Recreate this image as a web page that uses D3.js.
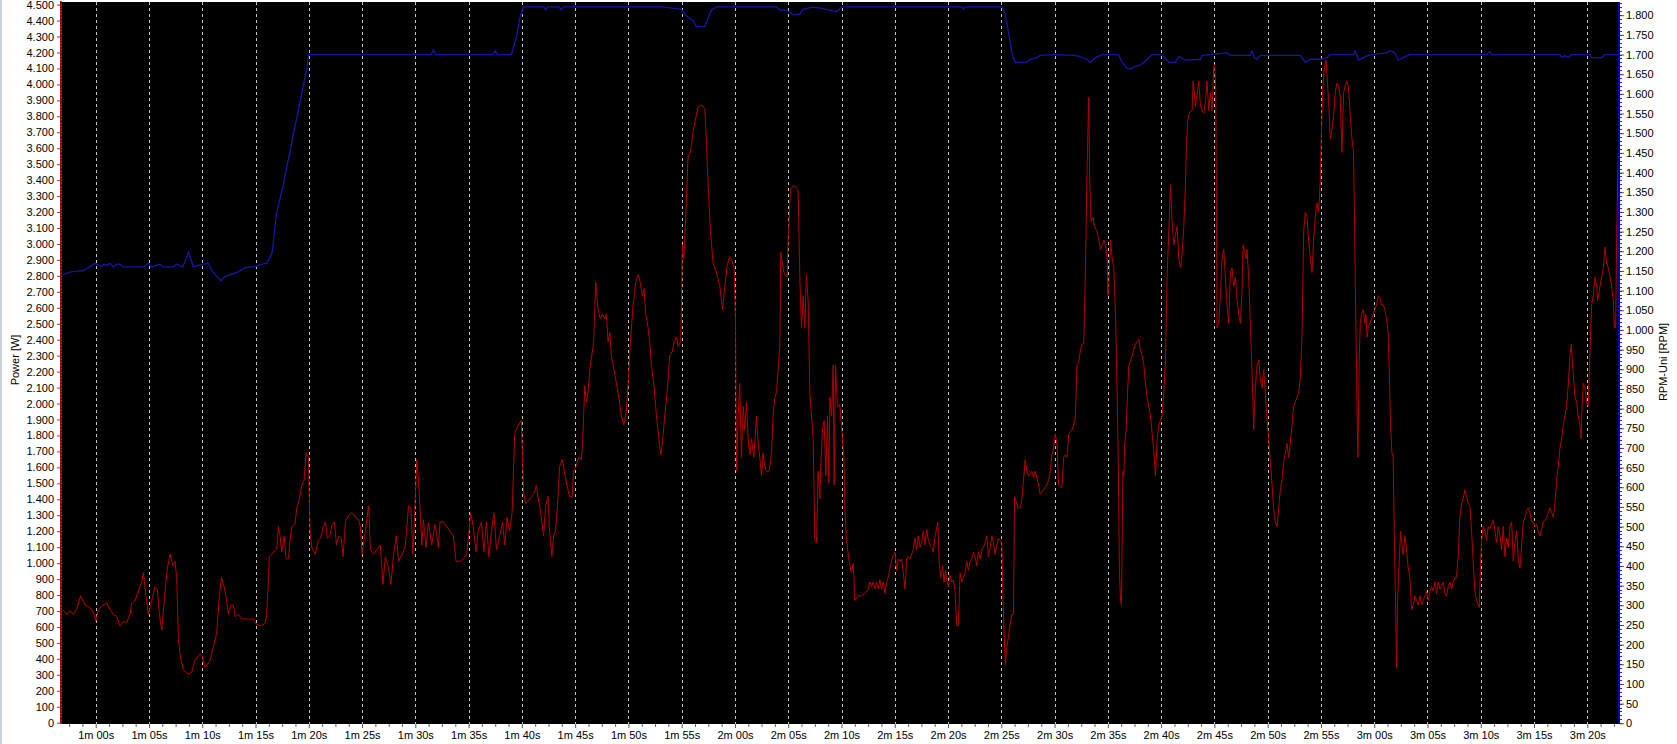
<!DOCTYPE html>
<html><head><meta charset="utf-8">
<script src="https://cdn.jsdelivr.net/npm/d3@7"></script>
<style>
html,body{margin:0;padding:0;background:#fff;}
svg{display:block;font-family:"Liberation Sans",Arial,sans-serif;}
</style></head>
<body>
<svg id="chart" width="1677" height="744"></svg>
<script>
// ---- data (time in seconds, power in W, rpm) ----
const timeTicks = d3.range(60, 201, 5);
const powerTicks = d3.range(0, 4501, 100);
const rpmTicks = d3.range(0, 1801, 50);
const leftTitle = "Power [W]";
const rightTitle = "RPM-Uni [RPM]";

const powerSeries = [
[56.90,708],[57.28,679],[57.59,702],[57.90,679],[58.22,714],[58.59,795],[59.00,737],[59.47,722],[59.78,693],[60.00,635],[60.25,708],[60.56,731],[61.03,751],[61.35,708],[61.66,679],[61.97,665],[62.28,607],[62.60,635],[62.91,627],[63.22,679],[63.38,751],[63.69,766],[64.01,824],[64.32,882],[64.47,940],[64.72,795],[64.94,679],[65.26,766],[65.57,853],[65.79,838],[65.98,679],[66.20,578],[66.51,824],[66.73,969],[66.98,1055],[67.23,983],[67.45,1012],[67.60,911],[67.76,534],[67.92,419],[68.23,332],[68.70,303],[69.01,317],[69.32,390],[69.79,433],[70.01,419],[70.26,346],[70.73,390],[71.05,477],[71.36,564],[71.61,795],[71.80,911],[72.05,853],[72.30,766],[72.45,679],[72.67,737],[72.92,737],[73.08,665],[73.39,679],[73.70,650],[74.17,650],[74.80,650],[75.05,621],[75.43,607],[75.89,621],[76.05,679],[76.30,1040],[76.68,1069],[76.99,1084],[77.15,1229],[77.30,1171],[77.46,1069],[77.68,1171],[77.87,1026],[78.09,1026],[78.24,1142],[78.40,1229],[78.71,1243],[78.87,1345],[79.12,1403],[79.34,1490],[79.56,1519],[79.74,1692],[79.96,1663],[80.12,1200],[80.28,1099],[80.59,1055],[80.90,1142],
[81.11,1157],[81.36,1229],[81.57,1258],[81.73,1157],[81.98,1171],[82.20,1243],[82.41,1258],[82.60,1113],[82.82,1171],[83.04,1157],[83.22,1040],[83.44,1258],[83.75,1301],[84.07,1316],[84.38,1287],[84.69,1272],[84.84,1229],[85.00,1055],[85.31,1200],[85.47,1287],[85.62,1359],[85.78,1084],[86.09,1055],[86.40,1084],[86.71,1113],[86.96,867],[87.18,1040],[87.49,969],[87.71,867],[87.96,1055],[88.21,1171],[88.43,1012],[88.74,1055],[89.05,1099],[89.36,1359],[89.58,1345],[89.77,1055],[89.89,1229],[90.14,1649],[90.30,1519],[90.61,1113],[90.76,1272],[91.01,1099],[91.23,1258],[91.54,1113],[91.85,1243],[92.17,1099],[92.32,1258],[92.63,1258],[92.94,1229],[93.26,1200],[93.57,1171],[93.82,1012],[94.19,1012],[94.50,1026],[94.81,1055],[95.00,1171],[95.19,1316],[95.44,1229],[95.69,1069],[95.90,1200],[96.21,1258],[96.43,1069],[96.68,1258],[96.90,1040],[97.15,1200],[97.37,1316],[97.62,1084],[97.93,1171],[98.18,1258],[98.40,1113],[98.61,1287],[98.86,1200],[99.08,1316],[99.33,1808],[99.55,1851],[99.80,1880],[99.95,1895],[100.17,1432],[100.36,1374],[100.58,1388],[100.89,1417],[101.20,1446],[101.36,1490],[101.51,1417],[101.73,1330],[102.04,1171],[102.23,1359],[102.45,1417],[102.60,1200],[102.82,1040],[102.98,1171],[103.16,1200],[103.38,1403],[103.54,1605],[103.79,1649],[104.00,1576],[104.22,1490],[104.47,1417],[104.72,1417],[104.84,1576],[105.09,1605],[105.34,1663],
[105.43,1663],[105.59,1649],[105.74,1808],[105.90,2112],[106.06,2010],[106.21,2068],[106.37,2213],[106.62,2329],[106.74,2387],[106.93,2763],[107.15,2589],[107.37,2531],[107.56,2560],[107.78,2531],[107.93,2560],[108.09,2387],[108.25,2445],[108.40,2300],[108.72,2184],[109.03,2068],[109.34,1923],[109.56,1866],[109.81,1952],[110.00,2155],[110.19,2387],[110.44,2618],[110.69,2763],[110.91,2806],[111.06,2777],[111.31,2676],[111.47,2720],[111.63,2560],[111.85,2474],[112.00,2387],[112.16,2242],[112.38,2126],[112.63,1923],[112.88,1764],[113.04,1678],[113.19,1750],[113.41,1923],[113.63,2068],[113.88,2300],[114.13,2329],[114.29,2387],[114.51,2416],[114.66,2358],[114.91,2387],[115.07,2995],[115.20,2908],[115.38,3168],[115.60,3545],[115.82,3574],[116.07,3704],[116.32,3791],[116.54,3857],[116.76,3869],[117.01,3863],[117.17,3848],[117.32,3660],[117.48,3371],[117.70,3081],[117.95,2879],[118.26,2821],[118.58,2734],[118.83,2589],[119.05,2734],[119.26,2864],[119.51,2922],[119.73,2893],[119.92,2850],[120.05,2531],[120.14,1576],[120.30,1923],[120.45,2126],[120.61,1663],[120.77,1982],[120.92,1837],[121.08,2010],[121.24,1779],[121.39,1678],[121.55,1779],[121.77,1663],[122.02,1923],[122.18,1750],[122.33,1663],[122.49,1547],[122.64,1692],[122.80,1605],[122.96,1576],[123.21,1576],[123.43,1692],[123.58,1923],[123.74,2039],[123.90,2068],[124.05,2213],[124.21,2358],[124.30,2951],[124.46,2879],[124.59,2821],[124.74,2806],[124.90,2792],[124.99,3023],[125.21,3342],[125.46,3365],[125.71,3356],[125.93,3342],[126.09,2792],[126.24,2474],[126.40,2676],[126.56,2474],[126.71,2806],[126.87,2647],[127.03,2068],[127.34,1779],[127.50,1142],[127.65,1127],[127.81,1576],[127.97,1403],[128.03,1576],[128.22,1837],[128.37,1895],[128.53,1547],[128.69,1923],[128.81,1504],[128.91,2039],[129.07,1923],[129.22,2242],[129.31,1490],[129.44,2242],[129.62,1982],[129.78,1982],
[129.84,1996],[130.22,1663],[130.31,1345],[130.47,1142],[130.78,983],[130.94,940],[131.10,998],[131.25,766],[131.57,795],[131.88,795],[132.19,809],[132.51,838],[132.66,882],[132.82,853],[132.98,882],[133.13,838],[133.29,882],[133.45,838],[133.60,896],[133.76,838],[133.92,882],[134.08,809],[134.23,882],[134.39,911],[134.55,969],[134.70,1012],[134.86,1055],[135.02,1069],[135.17,954],[135.33,1026],[135.49,1012],[135.64,1026],[135.80,940],[135.96,838],[136.11,1026],[136.27,1040],[136.43,1026],[136.58,1055],[136.74,1084],[136.90,1156],[137.05,1084],[137.21,1171],[137.37,1099],[137.52,1127],[137.68,1200],[137.84,1113],[137.99,1214],[138.15,1142],[138.31,1113],[138.46,1099],[138.62,1069],[138.78,1171],[138.93,1214],[139.03,1258],[139.18,1000],[139.31,911],[139.50,983],[139.62,882],[139.75,954],[139.87,896],[140.03,853],[140.19,925],[140.34,882],[140.50,896],[140.66,824],[140.82,607],[140.97,607],[141.13,940],[141.29,882],[141.44,911],[141.60,940],[141.76,1012],[141.91,954],[142.07,1012],[142.23,1026],[142.38,1069],[142.54,1040],[142.70,983],[142.85,1069],[143.01,1026],[143.17,1084],[143.32,1099],[143.48,1127],[143.64,1171],[143.79,1040],[143.95,1099],[144.11,1171],[144.26,1127],[144.42,1055],[144.58,1113],[144.73,1156],[144.89,1142],[145.05,1127],[145.14,824],[145.27,534],[145.39,361],[145.52,477],[145.67,534],[145.83,621],[145.99,679],[146.14,679],[146.24,1417],[146.39,1388],[146.55,1345],[146.77,1345],[146.93,1403],[147.08,1519],[147.24,1649],[147.40,1576],[147.55,1547],[147.71,1562],[147.87,1576],[148.03,1533],[148.18,1576],[148.34,1533],[148.50,1490],[148.65,1432],[148.81,1446],[148.97,1461],[149.12,1475],[149.28,1490],[149.44,1519],[149.59,1576],[149.75,1678],[149.91,1721],[150.06,1808],[150.22,1750],[150.38,1490],[150.53,1475],[150.69,1475],[150.85,1663],[151.00,1678],[151.16,1663],[151.32,1808],[151.47,1822],[151.63,1837],[151.79,1866],[151.94,1909],[152.10,2242],[152.26,2257],[152.41,2329],[152.57,2373],[152.73,2373],[152.88,2792],[153.04,3429],[153.20,3921],[153.29,3429],[153.42,3140],[153.61,3169],[153.73,3111],[153.98,3082],[154.23,2995],
[154.31,2965],[154.47,2995],[154.63,3024],[154.78,2995],[154.94,2908],[155.00,2676],[155.09,2734],[155.25,3024],[155.41,2908],[155.56,2850],[155.72,2560],[155.88,2039],[155.97,1663],[156.09,940],[156.19,766],[156.28,737],[156.41,1576],[156.50,1547],[156.59,1750],[156.72,1837],[156.81,2010],[156.97,2242],[157.13,2271],[157.28,2300],[157.44,2344],[157.59,2373],[157.75,2387],[157.91,2402],[158.06,2329],[158.22,2300],[158.38,2242],[158.53,2126],[158.69,2039],[158.84,1982],[159.00,1923],[159.16,1808],[159.31,1707],[159.47,1547],[159.63,1779],[159.78,1866],[159.94,1895],[160.09,1923],[160.25,2068],[160.41,2271],[160.56,2792],[160.72,3081],[160.88,3371],[161.03,3140],[161.19,2995],[161.34,3053],[161.50,3111],[161.66,2908],[161.81,2850],[161.97,2937],[162.13,3111],[162.28,3371],[162.38,3631],[162.50,3776],[162.59,3805],[162.75,3834],[162.91,3834],[163.00,4022],[163.13,3950],[163.22,3863],[163.38,3935],[163.53,4022],[163.69,3863],[163.84,3834],[164.00,3820],[164.16,3892],[164.31,4022],[164.47,3834],[164.63,3950],[164.78,3834],[164.94,4109],[165.03,4123],[165.13,3964],[165.25,2473],[165.41,2503],[165.56,2676],[165.72,2908],[165.88,2966],[166.03,2792],[166.19,2618],[166.34,2503],[166.50,2821],[166.66,2850],[166.81,2734],[166.97,2792],[167.13,2647],[167.28,2560],[167.44,2503],[167.59,2705],[167.69,2995],[167.84,2951],[168.00,2908],[168.06,2966],[168.22,2792],[168.38,2474],[168.53,2213],[168.69,1837],[168.84,2097],[169.00,2242],[169.16,2271],[169.31,2155],[169.47,2097],[169.63,2213],[169.78,2068],[169.94,1895],[170.09,1779],[170.25,1634],[170.41,1490],[170.56,1345],[170.72,1258],[170.88,1229],[171.03,1345],[171.19,1461],[171.34,1519],[171.50,1634],[171.66,1692],[171.81,1750],[171.97,1663],[172.13,1750],[172.28,1866],[172.44,1982],[172.59,2010],[172.75,2039],[172.91,2068],[173.06,2155],[173.22,2416],[173.38,3082],[173.53,3198],[173.69,3169],[173.84,3024],[174.00,2908],[174.16,2821],[174.31,3024],[174.47,3169],[174.63,3256],[174.78,3198],[174.94,3400],[175.03,3660],[175.16,3950],[175.31,4095],[175.47,4153],[175.56,4066],[175.72,3892],[175.88,3660],[176.03,3718],[176.19,3805],[176.34,3950],[176.50,4008],[176.66,3993],[176.81,3921],[176.97,3574],[177.13,3950],[177.28,3993],[177.44,4022],[177.59,3979],[177.75,3805],[177.91,3660],[178.06,3574],[178.22,2792],[178.38,1982],[178.47,1663],[178.59,2271],[178.69,2503],
[178.81,2560],[178.97,2589],[179.12,2503],[179.22,2560],[179.34,2416],[179.44,2474],[179.59,2503],[179.75,2531],[179.91,2560],[180.06,2589],[180.22,2618],[180.38,2676],[180.53,2662],[180.69,2618],[180.85,2618],[181.00,2589],[181.16,2531],[181.31,2445],[181.41,2213],[181.53,1866],[181.66,1692],[181.78,1663],[181.88,1200],[182.00,766],[182.10,346],[182.19,766],[182.32,969],[182.47,1200],[182.60,1113],[182.72,1055],[182.88,1171],[183.04,1084],[183.19,969],[183.35,911],[183.51,708],[183.66,737],[183.82,795],[183.97,766],[184.13,737],[184.29,795],[184.44,737],[184.60,766],[184.76,795],[184.91,824],[185.07,766],[185.23,824],[185.38,853],[185.54,824],[185.70,882],[185.85,809],[186.01,882],[186.17,838],[186.32,853],[186.48,882],[186.64,809],[186.79,795],[186.95,853],[187.10,882],[187.26,838],[187.42,882],[187.57,911],[187.73,911],[187.89,1055],[188.04,1287],[188.20,1374],[188.36,1403],[188.51,1461],[188.67,1417],[188.83,1374],[188.98,1359],[189.14,1200],[189.30,998],[189.45,824],[189.61,766],[189.77,737],[189.86,722],[189.98,998],[190.08,1142],[190.23,1229],[190.39,1200],[190.55,1142],[190.70,1229],[190.86,1214],[191.02,1243],[191.17,1272],[191.33,1200],[191.49,1127],[191.64,1229],[191.80,1171],[191.96,1084],[192.11,1229],[192.27,1040],[192.43,1156],[192.58,1099],[192.74,1229],[192.90,1258],[193.05,1012],[193.21,1127],[193.37,1200],[193.52,1026],[193.68,969],[193.84,1113],[193.99,1258],[194.15,1287],[194.30,1330],[194.46,1345],[194.62,1316],[194.77,1258],[194.93,1258],[195.09,1229],[195.24,1243],[195.40,1200],[195.56,1171],[195.71,1214],[195.87,1258],[196.03,1272],[196.18,1287],[196.34,1316],[196.49,1345],[196.65,1316],[196.81,1287],[196.96,1374],[197.12,1519],[197.28,1605],[197.43,1721],[197.59,1779],[197.75,1866],[197.90,1923],[198.06,1982],[198.22,2126],[198.37,2300],[198.50,2373],[198.62,2242],[198.75,2126],[198.84,2039],[199.00,2010],[199.15,1923],[199.31,1866],[199.41,1779],[199.53,2010],[199.62,2126],[199.78,2097],[199.94,2010],[200.09,1982],[200.25,2329],[200.41,2618],[200.56,2676],[200.72,2792],[200.88,2734],[200.97,2647],[201.06,2676],[201.19,2734],[201.35,2792],[201.50,2850],[201.66,2980],[201.82,2879],[201.97,2850],[202.13,2792],[202.29,2734],[202.44,2647],[202.54,2474],[202.66,2474],[202.75,3024],[202.85,3400],[202.94,3631]
];

const rpmSeries = [
[56.90,1140],[57.28,1144],[57.75,1148],[58.22,1149],[58.84,1151],[59.31,1158],[59.78,1167],[60.00,1169],[60.25,1164],[60.56,1162],[60.72,1167],[61.03,1164],[61.35,1169],[61.66,1160],[61.97,1167],[62.28,1167],[62.60,1160],[63.22,1160],[64.47,1160],[64.79,1167],[64.94,1169],[65.26,1160],[66.04,1167],[66.35,1160],[67.29,1160],[67.60,1167],[68.17,1160],[68.48,1181],[68.70,1199],[68.92,1181],[69.17,1160],[70.11,1167],[70.58,1169],[70.89,1151],[71.36,1136],[71.76,1125],[72.14,1136],[72.61,1140],[73.24,1146],[74.02,1158],[74.96,1161],[75.58,1167],[76.05,1169],[76.36,1186],[76.58,1199],[76.77,1252],[76.99,1299],[77.30,1334],[77.62,1369],[77.93,1416],[78.24,1451],[78.55,1498],[78.87,1539],[79.18,1580],[79.49,1621],[79.81,1663],[79.96,1700],
[91.50,1700],[91.70,1712],[91.90,1700],[97.30,1700],[97.50,1710],[97.70,1700],[99.02,1700],[99.49,1745],[99.80,1792],[100.11,1821],[102.10,1821],[102.23,1813],[102.40,1821],[103.50,1821],[103.69,1813],[103.90,1821],
[113.26,1821],[114.98,1815],[115.45,1798],[116.07,1786],[116.38,1771],[117.17,1771],[117.48,1792],[117.79,1813],[118.26,1821],[123.90,1821],[124.21,1813],[124.84,1813],[125.46,1801],[126.09,1803],[126.40,1815],[127.34,1821],[128.59,1815],[129.53,1809],[130.03,1821],
[141.30,1821],[141.45,1815],[141.60,1821],[145.05,1821],[145.36,1803],[145.67,1757],[145.99,1704],[146.14,1692],[146.30,1680],[147.40,1680],[147.71,1688],[148.34,1692],[148.65,1698],[149.91,1700],[151.79,1698],[152.41,1695],[153.04,1688],[153.35,1680],[153.82,1692],[154.48,1700],
[155.88,1700],[156.03,1698],[156.34,1680],[156.81,1665],[157.13,1663],[157.44,1668],[158.06,1674],[158.38,1680],[158.84,1692],[159.16,1700],[159.94,1700],[160.41,1692],[160.72,1680],[161.34,1680],[161.66,1695],[162.13,1688],[162.44,1686],[163.69,1688],[163.84,1698],[166.19,1704],[166.50,1698],[168.38,1698],[168.53,1710],[168.75,1692],[169.00,1688],[169.31,1698],[173.06,1698],[173.38,1686],[173.53,1680],[174.00,1688],[174.94,1688],[175.56,1692],[175.88,1700],[178.06,1700],[178.22,1710],[178.53,1686],
[178.97,1692],[179.44,1698],[179.75,1700],[181.16,1704],[181.47,1710],[181.78,1707],[182.03,1700],[182.25,1686],[182.41,1688],[182.72,1692],[183.19,1698],[183.35,1700],[190.55,1700],[190.86,1707],[191.02,1700],[197.43,1700],[197.59,1692],[197.90,1698],[198.22,1692],[198.53,1700],[200.25,1700],[200.41,1692],[201.35,1692],[201.66,1700],[202.94,1700]
];

// ---- layout ----
const svg = d3.select("#chart");
const plot = {left: 61, right: 1619, top: 2, bottom: 724};

const x = d3.scaleLinear().domain([60, 200]).range([95.7, 1587.3]);
const yL = d3.scaleLinear().domain([0, 4500]).range([722.7, 4.6]);
const yR = d3.scaleLinear().domain([0, 1800]).range([723.3, 15.2]);

const fmt = d3.formatLocale({decimal: ",", thousands: ".", grouping: [3], currency: ["", ""]}).format(",d");
const fmtTime = t => `${Math.floor(t / 60)}m ${String(t % 60).padStart(2, "0")}s`;

// left window border
svg.append("rect").attr("x", 0).attr("y", 0).attr("width", 2).attr("height", 744).attr("fill", "#cdd2da");

// plot background
svg.append("rect")
  .attr("x", plot.left).attr("y", plot.top)
  .attr("width", plot.right - plot.left).attr("height", plot.bottom - plot.top)
  .attr("fill", "#000");

svg.append("clipPath").attr("id", "clip").append("rect")
  .attr("x", plot.left + 1).attr("y", plot.top)
  .attr("width", plot.right - plot.left - 1).attr("height", plot.bottom - plot.top);

// vertical dashed grid
svg.append("g").selectAll("line").data(timeTicks).join("line")
  .attr("x1", d => Math.round(x(d)) + 0.5).attr("x2", d => Math.round(x(d)) + 0.5)
  .attr("y1", plot.top).attr("y2", plot.bottom)
  .attr("stroke", "#c4c4c4").attr("stroke-width", 1).attr("stroke-dasharray", "3,3");

// series
const lineP = d3.line().x(d => x(d[0])).y(d => yL(d[1]));
const lineR = d3.line().x(d => x(d[0])).y(d => yR(d[1]));
const gLines = svg.append("g").attr("clip-path", "url(#clip)");
gLines.append("path").datum(powerSeries).attr("d", lineP)
  .attr("fill", "none").attr("stroke", "#b40000").attr("stroke-width", 1).attr("stroke-linejoin", "round");
gLines.append("path").datum(rpmSeries).attr("d", lineR)
  .attr("fill", "none").attr("stroke", "#1616a6").attr("stroke-width", 1.3).attr("stroke-linejoin", "round");

// ---- left axis ----
const gl = svg.append("g").attr("transform", `translate(${plot.left - 1},0)`)
  .call(d3.axisLeft(yL).tickValues(powerTicks).tickFormat(fmt).tickSize(3).tickPadding(3));
gl.select(".domain").remove();
gl.selectAll(".tick line").attr("stroke", "#555");
gl.selectAll(".tick text").attr("fill", "#000").style("font-size", "11px").style("font-family", "'Liberation Sans', Arial, sans-serif");
svg.append("rect").attr("x", plot.left - 1).attr("y", plot.top).attr("width", 2)
  .attr("height", plot.bottom - plot.top).attr("fill", "#8c0000");
svg.append("g").selectAll("line").data(d3.range(0, 4521, 20)).join("line")
  .attr("x1", plot.left - 1).attr("x2", plot.left + 1)
  .attr("y1", d => Math.round(yL(d)) + 0.5).attr("y2", d => Math.round(yL(d)) + 0.5)
  .attr("stroke", "#e01010").attr("stroke-width", 1);

// ---- right axis ----
const gr = svg.append("g").attr("transform", `translate(${plot.right + 1},0)`)
  .call(d3.axisRight(yR).tickValues(rpmTicks).tickFormat(fmt).tickSize(4).tickPadding(2));
gr.select(".domain").remove();
gr.selectAll(".tick line").attr("stroke", "#555");
gr.selectAll(".tick text").attr("fill", "#000").style("font-size", "11px").style("font-family", "'Liberation Sans', Arial, sans-serif");
svg.append("rect").attr("x", plot.right - 1).attr("y", plot.top).attr("width", 2)
  .attr("height", plot.bottom - plot.top).attr("fill", "#0000b4");
svg.append("g").selectAll("line").data(d3.range(0, 1831, 10)).join("line")
  .attr("x1", plot.right + 1).attr("x2", plot.right + 3)
  .attr("y1", d => Math.round(yR(d)) + 0.5).attr("y2", d => Math.round(yR(d)) + 0.5)
  .attr("stroke", "#2a2ad0").attr("stroke-width", 1);

// ---- bottom axis ----
const minorT = d3.range(56.25, 203, 1.25).filter(t => x(t) > plot.left && x(t) < plot.right && t % 5 !== 0);
const gbm = svg.append("g").attr("transform", `translate(0,${plot.bottom})`)
  .call(d3.axisBottom(x).tickValues(minorT).tickFormat("").tickSize(3));
gbm.select(".domain").remove();
gbm.selectAll(".tick line").attr("stroke", "#666");
const gb = svg.append("g").attr("transform", `translate(0,${plot.bottom})`)
  .call(d3.axisBottom(x).tickValues(timeTicks).tickFormat(fmtTime).tickSize(4).tickPadding(3));
gb.select(".domain").remove();
gb.selectAll(".tick line").attr("stroke", "#555");
gb.selectAll(".tick text").attr("fill", "#000").style("font-size", "11px").style("font-family", "'Liberation Sans', Arial, sans-serif");

// ---- axis titles ----
svg.append("text").attr("transform", "translate(19,360) rotate(-90)")
  .attr("text-anchor", "middle").style("font-size", "11px").attr("fill", "#000").text(leftTitle);
svg.append("text").attr("transform", "translate(1667,362) rotate(-90)")
  .attr("text-anchor", "middle").style("font-size", "11px").attr("fill", "#000").text(rightTitle);
</script>
</body></html>
